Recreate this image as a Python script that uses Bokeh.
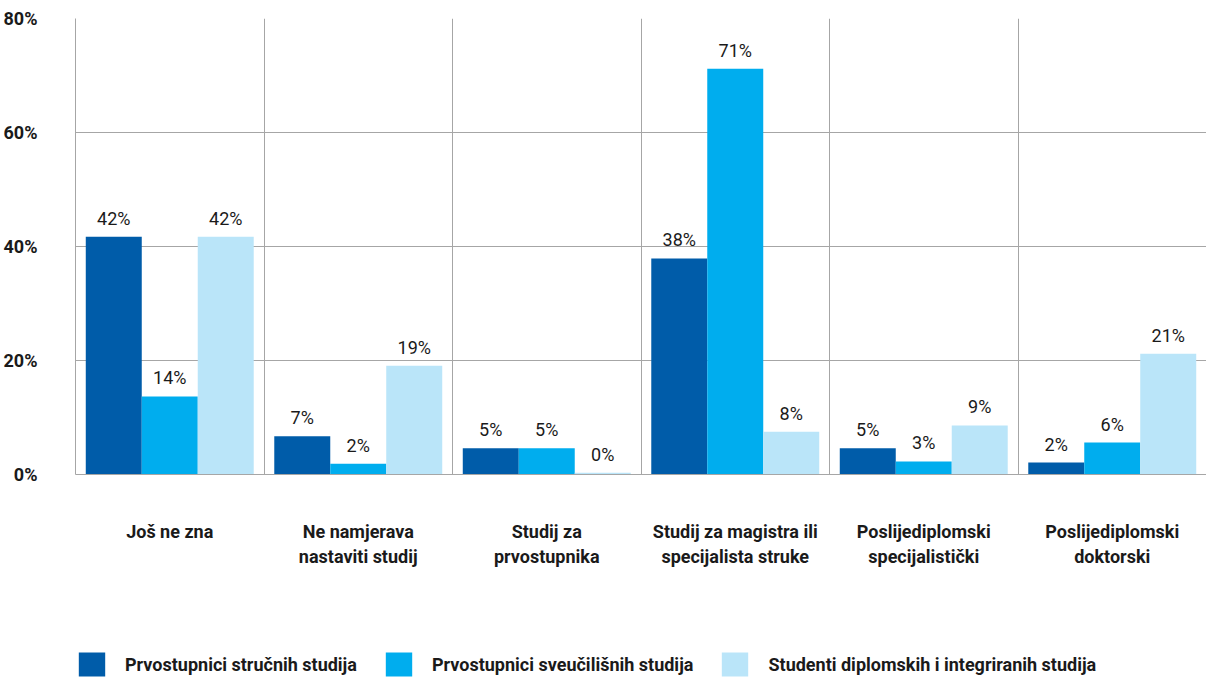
from bokeh.plotting import figure
from bokeh.layouts import column
from bokeh.models import ColumnDataSource, FixedTicker, Legend, LegendItem, Range1d
from bokeh.core.properties import value
from bokeh.embed import file_html
from bokeh.resources import INLINE

categories = [
    "Još ne zna",
    "Ne namjerava\nnastaviti studij",
    "Studij za\nprvostupnika",
    "Studij za magistra ili\nspecijalista struke",
    "Poslijediplomski\nspecijalistički",
    "Poslijediplomski\ndoktorski",
]
series_names = [
    "Prvostupnici stručnih studija",
    "Prvostupnici sveučilišnih studija",
    "Studenti diplomskih i integriranih studija",
]
strucni = [41.7, 6.7, 4.6, 37.9, 4.6, 2.1]
sveucilisni = [13.7, 1.9, 4.6, 71.2, 2.3, 5.6]
diplomski = [41.7, 19.1, 0.3, 7.5, 8.6, 21.2]
label_strucni = ["42%", "7%", "5%", "38%", "5%", "2%"]
label_sveucilisni = ["14%", "2%", "5%", "71%", "3%", "6%"]
label_diplomski = ["42%", "19%", "0%", "8%", "9%", "21%"]
y_ticks = [0, 20, 40, 60, 80]
y_tick_labels = ["0%", "20%", "40%", "60%", "80%"]

colors = ["#005ca9", "#00adee", "#bae5f9"]
FONT = "Roboto"
TXT = "#1a1a1a"
GRID = "#a6a6a6"

p = figure(width=1206, height=630, output_backend="svg", toolbar_location=None,
           x_range=Range1d(0, 6), y_range=Range1d(0, 80),
           min_border_left=70, min_border_right=0, min_border_top=18, min_border_bottom=156)
p.outline_line_color = None

offset = 0.297
series = [(strucni, label_strucni), (sveucilisni, label_sveucilisni), (diplomski, label_diplomski)]
for i, (vals, labs) in enumerate(series):
    xs = [c + 0.5 + (i - 1) * offset for c in range(len(categories))]
    src = ColumnDataSource(dict(x=xs, top=vals, lab=labs))
    p.vbar(x="x", top="top", width=offset, bottom=0, source=src,
           fill_color=colors[i], line_color=None)
    p.text(x="x", y="top", text="lab", source=src, text_align="center",
           text_baseline="bottom", y_offset=-8, text_font=value(FONT),
           text_font_size="18px", text_color=TXT)

p.xaxis.ticker = FixedTicker(ticks=[c + 0.5 for c in range(len(categories))])
p.xaxis.major_label_overrides = {c + 0.5: lab for c, lab in enumerate(categories)}
p.xaxis.major_tick_line_color = None
p.xaxis.minor_tick_line_color = None
p.xaxis.axis_line_color = GRID
p.xaxis.major_label_text_font = FONT
p.xaxis.major_label_text_font_style = "bold"
p.xaxis.major_label_text_font_size = "18px"
p.xaxis.major_label_text_color = TXT
p.xaxis.major_label_standoff = 40

p.yaxis.ticker = FixedTicker(ticks=y_ticks)
p.yaxis.major_label_overrides = {t: l for t, l in zip(y_ticks, y_tick_labels)}
p.yaxis.major_tick_line_color = None
p.yaxis.minor_tick_line_color = None
p.yaxis.axis_line_color = GRID
p.yaxis.major_label_text_font = FONT
p.yaxis.major_label_text_font_style = "bold"
p.yaxis.major_label_text_font_size = "18px"
p.yaxis.major_label_text_color = TXT
p.yaxis.major_label_standoff = 32

p.xgrid.ticker = FixedTicker(ticks=[1, 2, 3, 4, 5])
p.xgrid.grid_line_color = GRID
p.ygrid.ticker = FixedTicker(ticks=y_ticks)
p.ygrid.grid_line_color = GRID

# legend strip
p2 = figure(width=1206, height=49, output_backend="svg", toolbar_location=None,
            x_range=Range1d(0, 1), y_range=Range1d(0, 1),
            x_axis_location=None, y_axis_location=None,
            min_border_left=0, min_border_right=0, min_border_top=0, min_border_bottom=0)
p2.grid.visible = False
p2.outline_line_color = None
items = []
for name, col in zip(series_names, colors):
    r = p2.vbar(x=[5], top=[0.5], width=0.1, fill_color=col, line_color=None)
    items.append(LegendItem(label=name, renderers=[r]))
legend = Legend(items=items, orientation="horizontal", location="bottom_left")
legend.glyph_width = 33
legend.glyph_height = 30
legend.label_standoff = 17
legend.spacing = 25
legend.padding = 0
legend.margin = 0
legend.border_line_color = None
legend.background_fill_alpha = 0
legend.label_text_font = FONT
legend.label_text_font_style = "bold"
legend.label_text_font_size = "18px"
legend.label_text_color = TXT
p2.add_layout(legend, "center")

layout = column(p, p2, spacing=0)
open("out.html", "w").write(file_html(layout, INLINE))
